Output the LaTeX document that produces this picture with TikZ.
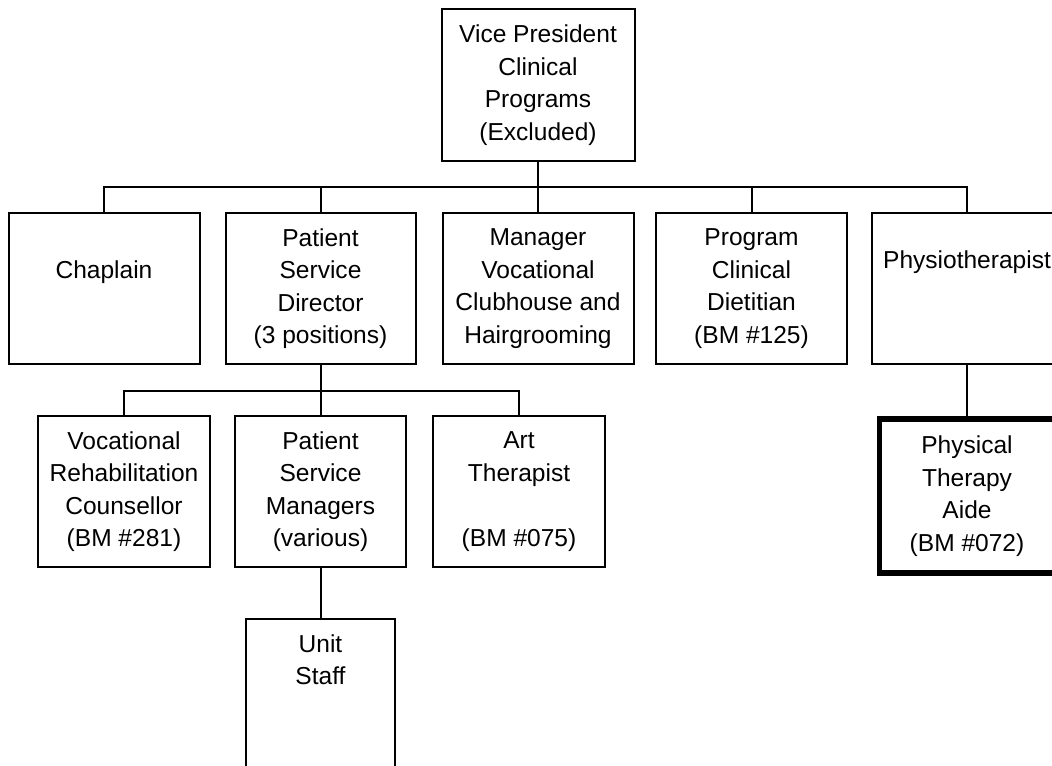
\documentclass[tikz,border=0pt]{standalone}
\usepackage{fontspec}
\setmainfont{Liberation Sans}
\begin{document}
\begin{tikzpicture}[x=0.75pt,y=-0.75pt,
  box/.style 2 args={draw, line width=1.5pt, inner sep=0pt, align=center,
    font=\fontsize{18.4}{24.4}\selectfont,
    minimum width=#1*0.75pt, minimum height=#2*0.75pt},
  thickbox/.style={line width=4pt},
  lbl/.style={inner sep=0pt, font=\fontsize{18.4}{24.4}\selectfont},
  conn/.style={line width=1.5pt}]
\path[use as bounding box] (0,0) rectangle (1052,765);
\clip (0,0) rectangle (1052,765);

% top
\node[box={193}{152}] (vp) at (538,85) {Vice President\\Clinical\\Programs\\(Excluded)};

% row 2
\node[box={191}{151}] (chap) at (104,288.5) {\vphantom{P}\\Chaplain\\\vphantom{X}\\\vphantom{(}};
\node[box={190}{151}] (psd) at (320.5,288.5) {Patient\\Service\\Director\\(3 positions)};
\node[box={191}{151}] (mgr) at (538,288.5) {Manager\\Vocational\\Clubhouse and\\Hairgrooming};
\node[box={191}{151}] (diet) at (751.5,288.5) {Program\\Clinical\\Dietitian\\(BM \#125)};
\node[box={190}{151}] (phys) at (967,288.5) {};
\node[lbl] (physlbl) at (967,262) {Physiotherapist};

% row 3
\node[box={172}{151}] (voc) at (124,491.5) {Vocational\\Rehabilitation\\Counsellor\\(BM \#281)};
\node[box={171}{151}] (psm) at (320.5,491.5) {Patient\\Service\\Managers\\(various)};
\node[box={172}{151}] (art) at (519,491.5) {Art\\Therapist\\\vphantom{X}\\(BM \#075)};
\node[box={175}{154}, thickbox] (pta) at (967,496) {Physical\\Therapy\\Aide\\(BM \#072)};

% row 4
\node[box={149}{151}] (unit) at (320.5,694.5) {Unit\\Staff\\\vphantom{X}\\\vphantom{(}};

% connectors
\coordinate (bus1) at (538,187);
\coordinate (bus2) at (320.5,391);
\draw[conn] (vp.south) -- (bus1);
\draw[conn] (chap.north) -- (chap.north |- bus1) -- (phys.north |- bus1) -- (phys.north);
\draw[conn] (psd.north) -- (psd.north |- bus1);
\draw[conn] (mgr.north) -- (mgr.north |- bus1);
\draw[conn] (diet.north) -- (diet.north |- bus1);

\draw[conn] (psd.south) -- (bus2);
\draw[conn] (voc.north) -- (voc.north |- bus2) -- (art.north |- bus2) -- (art.north);
\draw[conn] (psm.north) -- (psm.north |- bus2);

\draw[conn] (psm.south) -- (unit.north);
\draw[conn] (phys.south) -- (pta.north);
\end{tikzpicture}
\end{document}
